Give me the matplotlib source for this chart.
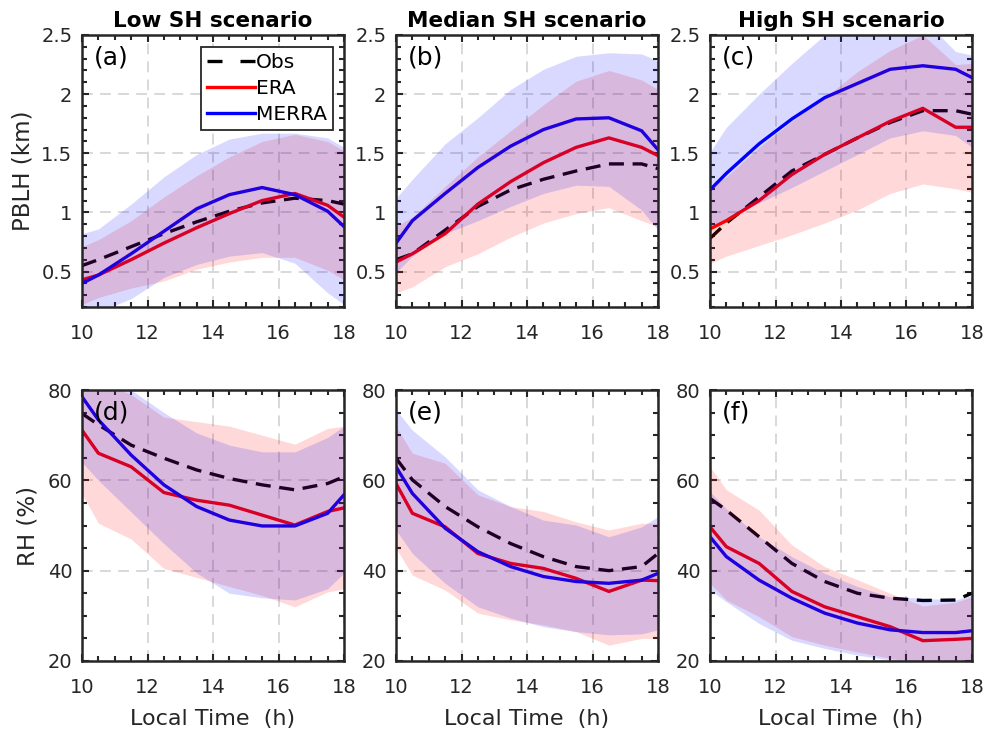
import numpy as np
import matplotlib.pyplot as plt
from matplotlib.lines import Line2D
from matplotlib.ticker import MultipleLocator

plt.rcParams['font.family'] = ['DejaVu Sans']

# local time of the hourly means
hours = [10, 10.5, 11.5, 12.5, 13.5, 14.5, 15.5, 16.5, 17.5, 18]
titles = ["Low SH scenario", "Median SH scenario", "High SH scenario"]

# PBLH (km)
pblh_obs_low = [0.55, 0.60, 0.71, 0.82, 0.92, 1.01, 1.08, 1.12, 1.10, 1.07]
pblh_era_low = [0.43, 0.47, 0.60, 0.74, 0.87, 0.99, 1.10, 1.16, 1.06, 0.96]
pblh_merra_low = [0.40, 0.47, 0.65, 0.84, 1.03, 1.15, 1.21, 1.15, 1.01, 0.88]
pblh_era_lo_low = [0.22, 0.28, 0.36, 0.42, 0.52, 0.58, 0.62, 0.62, 0.51, 0.43]
pblh_era_hi_low = [0.71, 0.77, 0.93, 1.13, 1.31, 1.47, 1.60, 1.66, 1.60, 1.52]
pblh_merra_lo_low = [0.12, 0.16, 0.27, 0.45, 0.56, 0.63, 0.66, 0.57, 0.32, 0.22]
pblh_merra_hi_low = [0.82, 0.86, 1.07, 1.30, 1.49, 1.62, 1.67, 1.67, 1.63, 1.55]

pblh_obs_med = [0.60, 0.65, 0.85, 1.05, 1.19, 1.28, 1.35, 1.41, 1.41, 1.37]
pblh_era_med = [0.58, 0.65, 0.82, 1.07, 1.26, 1.42, 1.55, 1.63, 1.55, 1.48]
pblh_merra_med = [0.74, 0.93, 1.16, 1.38, 1.56, 1.70, 1.79, 1.80, 1.69, 1.53]
pblh_era_lo_med = [0.32, 0.37, 0.54, 0.65, 0.79, 0.91, 0.99, 1.04, 0.93, 0.88]
pblh_era_hi_med = [0.88, 0.96, 1.22, 1.47, 1.69, 1.91, 2.11, 2.20, 2.12, 2.04]
pblh_merra_lo_med = [0.49, 0.63, 0.82, 0.93, 1.05, 1.16, 1.23, 1.22, 1.02, 0.85]
pblh_merra_hi_med = [1.12, 1.28, 1.58, 1.80, 2.04, 2.21, 2.32, 2.35, 2.34, 2.28]

pblh_obs_high = [0.78, 0.91, 1.13, 1.35, 1.49, 1.63, 1.76, 1.86, 1.86, 1.83]
pblh_era_high = [0.86, 0.93, 1.10, 1.32, 1.49, 1.63, 1.77, 1.88, 1.72, 1.72]
pblh_merra_high = [1.19, 1.33, 1.58, 1.79, 1.97, 2.09, 2.21, 2.24, 2.21, 2.14]
pblh_era_lo_high = [0.57, 0.63, 0.72, 0.81, 0.91, 1.02, 1.16, 1.24, 1.20, 1.17]
pblh_era_hi_high = [1.21, 1.30, 1.55, 1.77, 1.97, 2.19, 2.37, 2.50, 2.25, 2.26]
pblh_merra_lo_high = [0.88, 0.95, 1.08, 1.21, 1.35, 1.49, 1.63, 1.69, 1.65, 1.55]
pblh_merra_hi_high = [1.51, 1.72, 2.00, 2.26, 2.50, 2.60, 2.67, 2.64, 2.36, 2.33]

# RH (%)
rh_obs_low = [74.8, 72.3, 67.8, 64.9, 62.3, 60.4, 59.0, 57.9, 59.3, 60.8]
rh_era_low = [71.1, 66.0, 63.0, 57.3, 55.6, 54.5, 52.3, 50.1, 53.1, 53.9]
rh_merra_low = [78.5, 73.4, 65.6, 59.0, 54.2, 51.2, 49.9, 49.9, 52.7, 56.8]
rh_era_lo_low = [57.0, 50.5, 47.0, 40.5, 38.5, 36.5, 34.5, 32.0, 35.3, 36.0]
rh_era_hi_low = [82.0, 82.0, 79.0, 74.0, 73.0, 72.0, 70.0, 68.0, 71.5, 72.0]
rh_merra_lo_low = [64.0, 60.0, 53.0, 46.0, 39.5, 35.0, 34.0, 33.5, 36.0, 39.5]
rh_merra_hi_low = [84.0, 82.0, 80.0, 75.0, 70.5, 67.8, 66.3, 66.3, 69.5, 72.0]

rh_obs_med = [64.9, 60.1, 54.2, 49.7, 46.0, 43.1, 40.9, 40.0, 40.9, 43.8]
rh_era_med = [59.3, 52.7, 49.7, 43.8, 41.6, 40.5, 38.3, 35.4, 37.9, 37.8]
rh_merra_med = [63.0, 57.1, 49.4, 44.2, 40.9, 38.7, 37.6, 37.2, 37.9, 39.4]
rh_era_lo_med = [45.0, 39.0, 35.7, 30.6, 29.1, 28.0, 26.5, 23.5, 25.0, 25.0]
rh_era_hi_med = [71.9, 66.0, 63.8, 56.8, 54.2, 53.1, 50.8, 49.0, 50.5, 50.5]
rh_merra_lo_med = [49.0, 43.8, 37.2, 32.0, 29.5, 27.6, 26.5, 25.8, 26.0, 26.9]
rh_merra_hi_med = [75.6, 71.1, 65.2, 57.9, 54.2, 51.2, 50.1, 47.5, 49.7, 52.0]

rh_obs_high = [56.0, 53.4, 47.5, 41.6, 37.6, 35.0, 33.9, 33.4, 33.5, 35.0]
rh_era_high = [49.7, 45.3, 41.6, 35.4, 32.0, 29.8, 27.6, 24.5, 24.8, 25.0]
rh_merra_high = [47.5, 43.1, 37.9, 33.9, 30.6, 28.4, 26.9, 26.3, 26.3, 26.7]
rh_era_lo_high = [37.2, 33.5, 29.8, 25.4, 23.5, 22.0, 20.6, 19.5, 19.8, 20.0]
rh_era_hi_high = [63.0, 57.9, 53.4, 45.7, 40.9, 38.0, 35.0, 32.2, 33.0, 34.2]
rh_merra_lo_high = [35.7, 33.1, 28.3, 24.6, 22.8, 21.3, 20.2, 19.5, 19.5, 19.8]
rh_merra_hi_high = [57.5, 53.7, 47.5, 43.1, 39.4, 36.5, 34.2, 33.9, 33.5, 34.6]

top_rows = [
    (pblh_obs_low, pblh_era_low, pblh_merra_low, pblh_era_lo_low, pblh_era_hi_low, pblh_merra_lo_low, pblh_merra_hi_low),
    (pblh_obs_med, pblh_era_med, pblh_merra_med, pblh_era_lo_med, pblh_era_hi_med, pblh_merra_lo_med, pblh_merra_hi_med),
    (pblh_obs_high, pblh_era_high, pblh_merra_high, pblh_era_lo_high, pblh_era_hi_high, pblh_merra_lo_high, pblh_merra_hi_high),
]
bottom_rows = [
    (rh_obs_low, rh_era_low, rh_merra_low, rh_era_lo_low, rh_era_hi_low, rh_merra_lo_low, rh_merra_hi_low),
    (rh_obs_med, rh_era_med, rh_merra_med, rh_era_lo_med, rh_era_hi_med, rh_merra_lo_med, rh_merra_hi_med),
    (rh_obs_high, rh_era_high, rh_merra_high, rh_era_lo_high, rh_era_hi_high, rh_merra_lo_high, rh_merra_hi_high),
]
letters = ["(a)", "(b)", "(c)", "(d)", "(e)", "(f)"]

fig = plt.figure(figsize=(9.9, 7.33), dpi=100)
lefts = [82 / 990, 396 / 990, 710 / 990]
w = 262 / 990
ink = '#262626'


def panel(ax, data, letter):
    obs, era, merra, era_lo, era_hi, mer_lo, mer_hi = data
    ax.plot(hours, obs, color='k', lw=2.4, dashes=(4.5, 2.6), zorder=2)
    ax.plot(hours, era, color='red', lw=2.4, zorder=2)
    ax.plot(hours, merra, color='blue', lw=2.4, zorder=2)
    ax.fill_between(hours, era_lo, era_hi, color='red', alpha=0.15, lw=0, zorder=3)
    ax.fill_between(hours, mer_lo, mer_hi, color='blue', alpha=0.15, lw=0, zorder=3)
    ax.set_xlim(10, 18)
    ax.xaxis.set_major_locator(MultipleLocator(2))
    ax.xaxis.set_minor_locator(MultipleLocator(0.5))
    ax.grid(True, which='major', color='#d6d6d6', ls=(0, (6, 4)), lw=1.3, zorder=1)
    ax.set_axisbelow(True)
    ax.tick_params(which='both', direction='in', top=True, right=True,
                   width=1.5, color=ink, labelsize=14, labelcolor=ink)
    ax.tick_params(which='major', length=5, pad=7)
    ax.tick_params(which='minor', length=3.5)
    ax.tick_params(axis='x', which='major', pad=12)
    for s in ax.spines.values():
        s.set_linewidth(1.8)
        s.set_color(ink)
        s.set_zorder(5)
    ax.text(0.045, 0.96, letter, transform=ax.transAxes, ha='left', va='top',
            fontsize=18, color='k', zorder=6)


# legend handles (dash pattern chosen to fit the legend sample)
legend_handles = [
    Line2D([], [], color='k', lw=2.4, dashes=(4.5, 5.4), label='Obs'),
    Line2D([], [], color='red', lw=2.4, label='ERA'),
    Line2D([], [], color='blue', lw=2.4, label='MERRA'),
]

for i in range(3):
    ax = fig.add_axes([lefts[i], 1 - 307 / 733, w, 272 / 733])
    panel(ax, top_rows[i], letters[i])
    ax.set_ylim(0.2, 2.5)
    ax.set_yticks([0.5, 1, 1.5, 2, 2.5])
    ax.set_yticklabels(['0.5', '1', '1.5', '2', '2.5'])
    ax.yaxis.set_minor_locator(MultipleLocator(0.1))
    ax.set_title(titles[i], fontsize=15.5, fontweight='bold', pad=6)
    if i == 0:
        ax.set_ylabel('PBLH (km)', fontsize=16.5, color=ink, labelpad=5)
        leg = ax.legend(handles=legend_handles, loc='upper right', bbox_to_anchor=(0.958, 0.956),
                        fontsize=14.5, handlelength=2.4, handletextpad=0.05,
                        borderpad=0.3, labelspacing=0.35, fancybox=False,
                        edgecolor=ink, framealpha=1, borderaxespad=0)
        leg.get_frame().set_linewidth(1.3)

    ax = fig.add_axes([lefts[i], 1 - 661 / 733, w, 271 / 733])
    panel(ax, bottom_rows[i], letters[i + 3])
    ax.set_ylim(20, 80)
    ax.set_yticks([20, 40, 60, 80])
    ax.yaxis.set_minor_locator(MultipleLocator(5))
    ax.set_xlabel('Local Time  (h)', fontsize=16, color=ink, labelpad=9)
    if i == 0:
        ax.set_ylabel('RH (%)', fontsize=16.5, color=ink, labelpad=6)

fig.savefig('out.png', dpi=100)
